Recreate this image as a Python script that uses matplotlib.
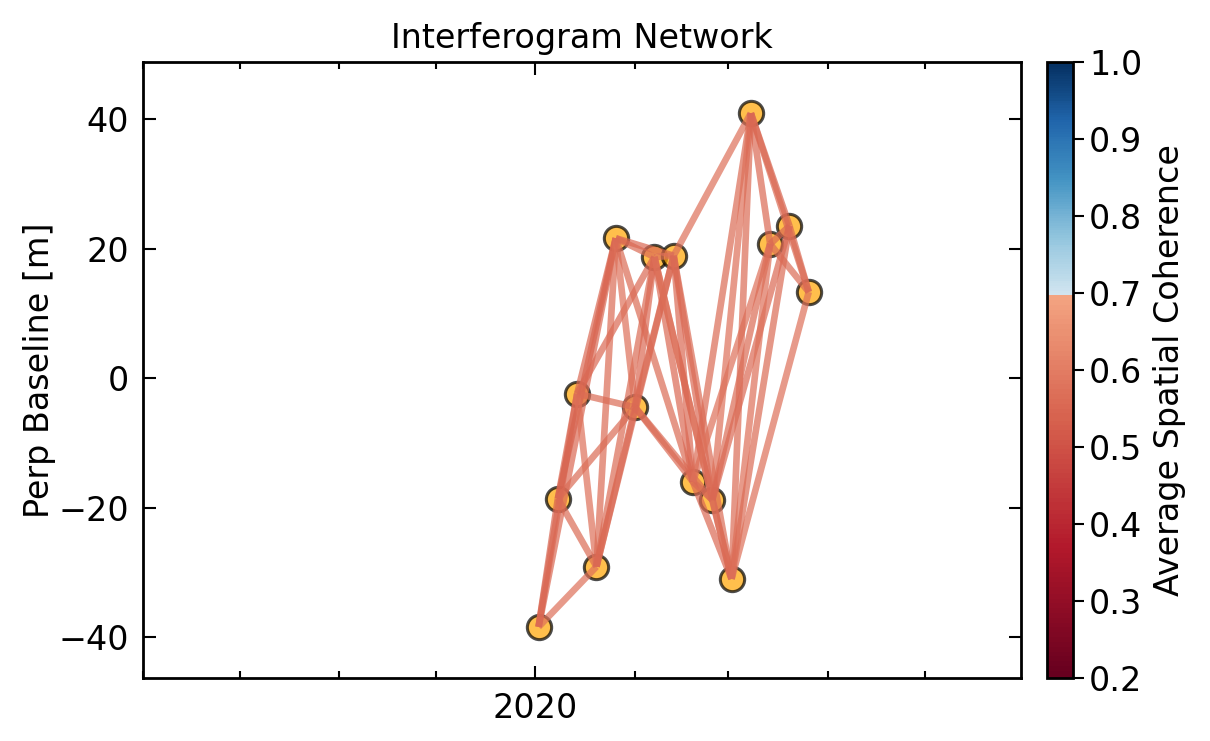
import numpy as np
import pandas as pd
import matplotlib
matplotlib.use('Agg')
import matplotlib.pyplot as plt
import matplotlib.dates as mdates
from matplotlib.colors import ListedColormap, Normalize
from matplotlib.cm import ScalarMappable

# ======================================
# DATA
# ======================================
dates = pd.to_datetime([
    '2020-01-02', '2020-01-08', '2020-01-14', '2020-01-20', '2020-01-26',
    '2020-02-01', '2020-02-07', '2020-02-13', '2020-02-19', '2020-02-25',
    '2020-03-02', '2020-03-08', '2020-03-14', '2020-03-20', '2020-03-26',
])
pbase = [-38.4, -18.6, -2.4, -29.1, 21.6, -4.5, 18.7, 18.9,
         -16.0, -18.8, -31.0, 40.9, 20.7, 23.5, 13.3]

# interferogram pairs (reference index, secondary index)
ref_idx = [0, 0, 0, 0, 1, 1, 1, 1, 2, 2, 2, 2, 3, 3, 3, 3, 4, 4, 4, 4,
           5, 5, 5, 5, 6, 6, 6, 6, 7, 7, 7, 7, 8, 8, 8, 8, 9, 9, 9, 9,
           10, 10, 10, 10, 11, 11, 11, 12, 12, 13]
sec_idx = [1, 2, 3, 4, 2, 3, 4, 5, 3, 4, 5, 6, 4, 5, 6, 7, 5, 6, 7, 8,
           6, 7, 8, 9, 7, 8, 9, 10, 8, 9, 10, 11, 9, 10, 11, 12, 10, 11, 12, 13,
           11, 12, 13, 14, 12, 13, 14, 13, 14, 14]
coherence = [0.54, 0.55, 0.57, 0.55, 0.55, 0.56, 0.54, 0.56, 0.57, 0.55,
             0.56, 0.55, 0.56, 0.57, 0.56, 0.55, 0.57, 0.56, 0.55, 0.56,
             0.55, 0.56, 0.55, 0.56, 0.57, 0.55, 0.56, 0.57, 0.55, 0.55,
             0.56, 0.57, 0.56, 0.55, 0.56, 0.57, 0.56, 0.57, 0.56, 0.55,
             0.56, 0.57, 0.56, 0.57, 0.55, 0.54, 0.56, 0.55, 0.56, 0.56]

x_range = pd.to_datetime(['2019-09-01', '2020-05-31'])
y_range = [-46.3, 48.8]
cbar_ticks = [0.2, 0.3, 0.4, 0.5, 0.6, 0.7, 0.8, 0.9, 1.0]

# ======================================
# COLORMAP: RdBu truncated at 0.7 (red below, blue above)
# ======================================
vmin, vbreak, vmax = 0.2, 0.7, 1.0
base = plt.get_cmap('RdBu')
n_red = int(256 * (vbreak - vmin) / (vmax - vmin))
n_blue = 256 - n_red
cmap = ListedColormap(np.vstack([base(np.linspace(0.0, 0.3, n_red)),
                                 base(np.linspace(0.6, 1.0, n_blue))]))
norm = Normalize(vmin=vmin, vmax=vmax)

# ======================================
# PLOT
# ======================================
plt.rcParams['font.family'] = ['DejaVu Sans']
fs = 24

fig = plt.figure(figsize=(12.1, 7.41), dpi=100)
ax = fig.add_axes([0.1182, 0.085, 0.7256, 0.8313])

ax.plot(dates, pbase, 'o', ms=17.5, mfc='orange', mec='k', mew=2.2,
        alpha=0.7, zorder=2, linestyle='none')

for i, j, c in zip(ref_idx, sec_idx, coherence):
    ax.plot([dates[i], dates[j]], [pbase[i], pbase[j]], '-',
            lw=4.8, color=cmap(norm(c)), alpha=0.7, zorder=3,
            solid_capstyle='butt')

ax.set_xlim(x_range[0], x_range[1])
ax.set_ylim(y_range)
ax.xaxis.set_major_locator(mdates.YearLocator())
ax.xaxis.set_major_formatter(mdates.DateFormatter('%Y'))
ax.xaxis.set_minor_locator(mdates.MonthLocator())
ax.set_yticks([-40, -20, 0, 20, 40])

ax.tick_params(which='both', direction='in', top=True, right=True,
               labelsize=fs, width=1.5)
ax.tick_params(which='major', length=9, pad=10)
ax.tick_params(which='minor', length=5)
for sp in ax.spines.values():
    sp.set_linewidth(2)

ax.set_ylabel('Perp Baseline [m]', fontsize=fs, labelpad=2)
ax.set_title('Interferogram Network', fontsize=fs, pad=10)

cax = fig.add_axes([0.8653, 0.085, 0.0215, 0.8313])
cb = fig.colorbar(ScalarMappable(norm=norm, cmap=cmap), cax=cax)
cb.set_ticks(cbar_ticks)
cb.ax.tick_params(labelsize=fs, length=8, width=1.5, direction='out')
cb.outline.set_linewidth(2)
cb.set_label('Average Spatial Coherence', fontsize=fs, labelpad=8)

fig.savefig('out.png', dpi=100)
